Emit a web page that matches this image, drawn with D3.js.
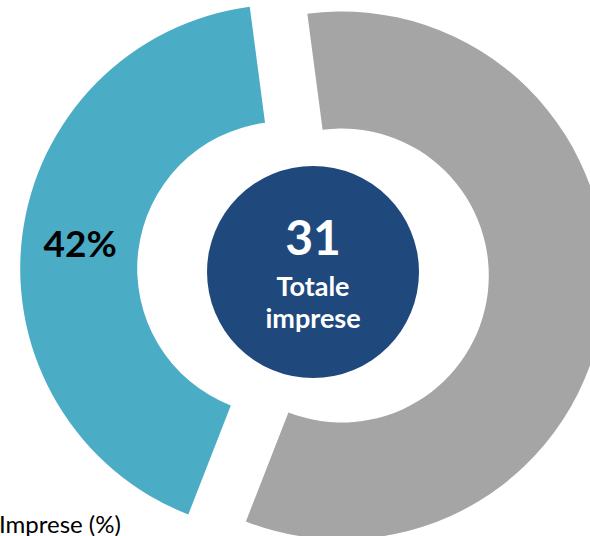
<!DOCTYPE html>
<html>
<head>
<meta charset="utf-8">
<script src="https://cdn.jsdelivr.net/npm/d3@7"></script>
<style>
  html, body { margin: 0; padding: 0; background: #ffffff; }
  svg { display: block; }
</style>
</head>
<body>
<script>
// Share of companies, in percent
const categories = ["Altre", "Imprese"];
const values = [58, 42];
const colors = ["#a5a5a5", "#4bacc6"];
const showLabel = [false, true];

const totalValue = 31;
const totalLines = ["Totale", "imprese"];
const axisTitle = "Imprese (%)";

const width = 590, height = 536;
const cx = 313, cy = 272;
const outerR = 264, innerR = 147;
const explode = 29;
const startDeg = -7.5;

const svg = d3.select("body").append("svg")
  .attr("width", width).attr("height", height);

const pie = d3.pie()
  .sort(null)
  .value(d => d.value)
  .startAngle(startDeg * Math.PI / 180)
  .endAngle(startDeg * Math.PI / 180 + 2 * Math.PI);

const arc = d3.arc().innerRadius(innerR).outerRadius(outerR);

const data = categories.map((c, i) => ({ name: c, value: values[i], color: colors[i], label: showLabel[i] }));
const arcs = pie(data);

const g = svg.append("g").attr("transform", `translate(${cx},${cy})`);

// each slice is pulled out along its mid angle
const slice = g.selectAll("g.slice").data(arcs).join("g")
  .attr("class", "slice")
  .attr("transform", d => {
    const mid = (d.startAngle + d.endAngle) / 2;
    return `translate(${Math.sin(mid) * explode},${-Math.cos(mid) * explode})`;
  });

slice.append("path")
  .attr("d", arc)
  .attr("fill", d => d.data.color);

slice.filter(d => d.data.label).append("text")
  .attr("transform", d => `translate(${arc.centroid(d)})`)
  .attr("text-anchor", "middle")
  .attr("dy", "0.36em")
  .attr("font-family", "Lato, 'Open Sans', sans-serif")
  .attr("font-weight", "bold")
  .attr("font-size", 37)
  .attr("fill", "#000000")
  .text(d => d3.format(".0f")(d.data.value) + "%");

// central badge with the total
g.append("circle")
  .attr("r", 106)
  .attr("fill", "#1f497d");

g.append("text")
  .attr("x", 0).attr("y", 255 - cy)
  .attr("text-anchor", "middle")
  .attr("font-family", "Lato, 'Open Sans', sans-serif")
  .attr("font-weight", "bold")
  .attr("font-size", 48)
  .attr("fill", "#ffffff")
  .text(totalValue);

g.selectAll("text.sub").data(totalLines).join("text")
  .attr("class", "sub")
  .attr("x", 0)
  .attr("y", (d, i) => [296, 328][i] - cy)
  .attr("text-anchor", "middle")
  .attr("font-family", "Lato, 'Open Sans', sans-serif")
  .attr("font-weight", "bold")
  .attr("font-size", 27)
  .attr("fill", "#ffffff")
  .text(d => d);

svg.append("text")
  .attr("x", -1).attr("y", 533)
  .attr("font-family", "Lato, 'Open Sans', sans-serif")
  .attr("font-size", 24)
  .attr("fill", "#000000")
  .text(axisTitle);
</script>
</body>
</html>
